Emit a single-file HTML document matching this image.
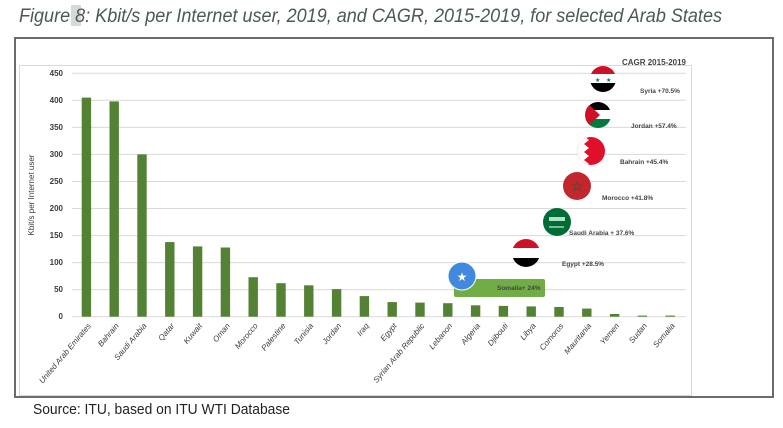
<!DOCTYPE html>
<html><head><meta charset="utf-8"><style>
body{margin:0;background:#fff;width:783px;height:423px;overflow:hidden;font-family:"Liberation Sans",sans-serif}
</style></head><body>
<svg width="783" height="423" viewBox="0 0 783 423" xmlns="http://www.w3.org/2000/svg" font-family="Liberation Sans, sans-serif">
<rect x="71" y="5" width="10" height="21" fill="#c8c8c8" opacity="0.7"/>
<text x="19" y="22" font-size="19" font-style="italic" fill="#4b5a4f" textLength="703" lengthAdjust="spacingAndGlyphs">Figure 8: Kbit/s per Internet user, 2019, and CAGR, 2015-2019, for selected Arab  States</text>
<rect x="15" y="38" width="758" height="359" fill="none" stroke="#6b6b6b" stroke-width="2"/>
<rect x="19.5" y="65.5" width="672" height="330" fill="none" stroke="#d9d9d9" stroke-width="1"/>
<g stroke="#d9d9d9" stroke-width="1">
<line x1="72" x2="686" y1="73.3" y2="73.3"/><line x1="72" x2="686" y1="100.3" y2="100.3"/>
<line x1="72" x2="686" y1="127.4" y2="127.4"/><line x1="72" x2="686" y1="154.4" y2="154.4"/>
<line x1="72" x2="686" y1="181.5" y2="181.5"/><line x1="72" x2="686" y1="208.5" y2="208.5"/>
<line x1="72" x2="686" y1="235.6" y2="235.6"/><line x1="72" x2="686" y1="262.6" y2="262.6"/>
<line x1="72" x2="686" y1="289.6" y2="289.6"/><line x1="72" x2="686" y1="316.7" y2="316.7"/>
</g>
<g font-size="8" font-weight="bold" fill="#3b3b3b" text-anchor="end">
<text x="63" y="76">450</text><text x="63" y="103">400</text><text x="63" y="130">350</text><text x="63" y="157">300</text><text x="63" y="184">250</text><text x="63" y="211">200</text><text x="63" y="238">150</text><text x="63" y="265">100</text><text x="63" y="292">50</text><text x="63" y="319">0</text>
</g>
<text transform="translate(34,195) rotate(-90)" font-size="8" fill="#3b3b3b" text-anchor="middle">Kbit/s per Internet user</text>
<g fill="#548235">
<rect x="81.7" y="97.6" width="9.4" height="219.1"/>
<rect x="109.5" y="101.4" width="9.4" height="215.3"/>
<rect x="137.3" y="154.4" width="9.4" height="162.3"/>
<rect x="165.1" y="242.1" width="9.4" height="74.6"/>
<rect x="192.9" y="246.4" width="9.4" height="70.3"/>
<rect x="220.7" y="247.5" width="9.4" height="69.2"/>
<rect x="248.5" y="277.2" width="9.4" height="39.5"/>
<rect x="276.3" y="283.2" width="9.4" height="33.5"/>
<rect x="304.1" y="285.3" width="9.4" height="31.4"/>
<rect x="331.9" y="289.1" width="9.4" height="27.6"/>
<rect x="359.7" y="296.1" width="9.4" height="20.6"/>
<rect x="387.5" y="302.1" width="9.4" height="14.6"/>
<rect x="415.3" y="302.6" width="9.4" height="14.1"/>
<rect x="443.1" y="303.2" width="9.4" height="13.5"/>
<rect x="470.9" y="305.3" width="9.4" height="11.4"/>
<rect x="498.7" y="305.9" width="9.4" height="10.8"/>
<rect x="526.5" y="306.4" width="9.4" height="10.3"/>
<rect x="554.3" y="307.0" width="9.4" height="9.7"/>
<rect x="582.1" y="308.6" width="9.4" height="8.1"/>
<rect x="609.9" y="314.0" width="9.4" height="2.7"/>
<rect x="637.7" y="315.6" width="9.4" height="1.1"/>
<rect x="665.5" y="315.6" width="9.4" height="1.1"/>
</g>
<g font-size="8" font-style="italic" fill="#3b3b3b" text-anchor="end">
<text transform="translate(91.4,326) rotate(-50)">United Arab Emirates</text>
<text transform="translate(119.2,326) rotate(-50)">Bahrain</text>
<text transform="translate(147,326) rotate(-50)">Saudi Arabia</text>
<text transform="translate(174.8,326) rotate(-50)">Qatar</text>
<text transform="translate(202.6,326) rotate(-50)">Kuwait</text>
<text transform="translate(230.4,326) rotate(-50)">Oman</text>
<text transform="translate(258.2,326) rotate(-50)">Morocco</text>
<text transform="translate(286,326) rotate(-50)">Palestine</text>
<text transform="translate(313.8,326) rotate(-50)">Tunisia</text>
<text transform="translate(341.6,326) rotate(-50)">Jordan</text>
<text transform="translate(369.4,326) rotate(-50)">Iraq</text>
<text transform="translate(397.2,326) rotate(-50)">Egypt</text>
<text transform="translate(425,326) rotate(-50)">Syrian Arab Republic</text>
<text transform="translate(452.8,326) rotate(-50)">Lebanon</text>
<text transform="translate(480.6,326) rotate(-50)">Algeria</text>
<text transform="translate(508.4,326) rotate(-50)">Djibouti</text>
<text transform="translate(536.2,326) rotate(-50)">Libya</text>
<text transform="translate(564,326) rotate(-50)">Comoros</text>
<text transform="translate(591.8,326) rotate(-50)">Mauritania</text>
<text transform="translate(619.6,326) rotate(-50)">Yemen</text>
<text transform="translate(647.4,326) rotate(-50)">Sudan</text>
<text transform="translate(675.2,326) rotate(-50)">Somalia</text>
</g>
<text x="686" y="65" font-size="8" font-weight="bold" fill="#444" text-anchor="end">CAGR 2015-2019</text>
<rect x="454" y="279" width="91" height="18" rx="2" fill="#70ad47"/>
<g font-size="6.5" fill="#444" font-weight="bold">
<text x="640" y="93">Syria +70.5%</text><text x="631" y="128">Jordan +57.4%</text>
<text x="620" y="164">Bahrain +45.4%</text><text x="602" y="200">Morocco +41.8%</text>
<text x="569" y="235">Saudi Arabia + 37.6%</text><text x="562" y="266">Egypt +28.5%</text>
<text x="497" y="290">Somalia+ 24%</text>
</g>
<defs>
<clipPath id="c1"><circle cx="603" cy="79" r="13"/></clipPath>
<clipPath id="c2"><circle cx="598" cy="115" r="13"/></clipPath>
<clipPath id="c3"><circle cx="591" cy="151" r="14"/></clipPath>
<clipPath id="c6"><circle cx="526" cy="253" r="14"/></clipPath>
</defs>
<g clip-path="url(#c1)"><rect x="588" y="64" width="30" height="10" fill="#ce1126"/><rect x="588" y="74" width="30" height="9" fill="#fff"/><rect x="588" y="83" width="30" height="10" fill="#000"/></g>
<text x="595" y="82" font-size="6" fill="#007a3d">★</text><text x="606" y="82" font-size="6" fill="#007a3d">★</text>
<g clip-path="url(#c2)"><rect x="584" y="100" width="30" height="10" fill="#000"/><rect x="584" y="110" width="30" height="9" fill="#fff"/><rect x="584" y="119" width="30" height="10" fill="#007a3d"/><polygon points="584,100 600,115 584,130" fill="#ce1126"/></g>
<g clip-path="url(#c3)"><rect x="576" y="136" width="30" height="30" fill="#e0102b"/><polygon points="576,136 584,136 589,140 584,144 589,148 584,152 589,156 584,160 589,164 584,166 576,166" fill="#fff"/></g>
<circle cx="577" cy="186" r="14" fill="#c1272d"/><text x="577" y="191" font-size="14" fill="#006233" text-anchor="middle">☆</text>
<circle cx="557" cy="222" r="14" fill="#006c35"/><rect x="549" y="217" width="16" height="4" fill="#dfe" opacity="0.8"/><line x1="549" y1="227" x2="564" y2="227" stroke="#fff"/>
<g clip-path="url(#c6)"><rect x="511" y="239" width="30" height="9" fill="#ce1126"/><rect x="511" y="248" width="30" height="10" fill="#fff"/><rect x="511" y="258" width="30" height="10" fill="#000"/></g>
<circle cx="462" cy="276" r="14" fill="#4189dd" stroke="#fff" stroke-width="1"/><text x="462" y="281" font-size="12" fill="#fff" text-anchor="middle">★</text>
<text x="33" y="414" font-size="15" fill="#222" textLength="257" lengthAdjust="spacingAndGlyphs">Source: ITU, based on ITU WTI Database</text>
</svg>
</body></html>
